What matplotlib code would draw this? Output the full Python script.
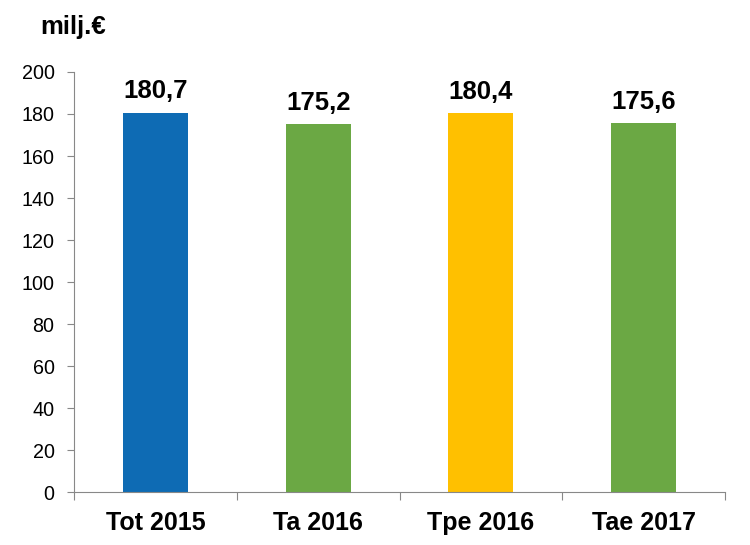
import matplotlib
matplotlib.use("Agg")
import matplotlib.pyplot as plt
import numpy as np

plt.rcParams["font.family"] = ["Liberation Sans", "DejaVu Sans"]

# ---- DATA ----
categories = ["Tot 2015", "Ta 2016", "Tpe 2016", "Tae 2017"]
values = [180.7, 175.2, 180.4, 175.6]
value_labels = ["180,7", "175,2", "180,4", "175,6"]
bar_colors = ["#0E6BB4", "#6BA844", "#FFC000", "#6BA844"]

fig = plt.figure(figsize=(7.5, 5.45), dpi=100)
ax = fig.add_axes([0.0987, 0.0972, 0.8680, 0.7707])

x = np.arange(len(categories))
ax.bar(x, values, width=0.4, color=bar_colors, zorder=2)

for xi, v, lab in zip(x, values, value_labels):
    ax.text(xi, v + 4.5, lab, ha="center", va="bottom",
            fontsize=18.5, fontweight="bold")

ax.set_xlim(-0.5, len(categories) - 0.5)
ax.set_ylim(0, 200)
ax.set_yticks(np.arange(0, 201, 20))
ax.tick_params(axis="y", labelsize=14.2, length=5, color="#888888", pad=9)

# x ticks at category boundaries, labels centred
ax.set_xticks(np.arange(-0.5, len(categories)), minor=False)
ax.set_xticklabels([])
ax.set_xticks(x, minor=True)
ax.set_xticklabels(categories, minor=True, fontsize=18, fontweight="bold")
ax.tick_params(axis="x", which="major", length=6, color="#888888")
ax.tick_params(axis="x", which="minor", length=0, pad=14)

for side in ["top", "right"]:
    ax.spines[side].set_visible(False)
for side in ["left", "bottom"]:
    ax.spines[side].set_color("#888888")

fig.text(0.053, 0.95, "milj.€", fontsize=18.5, fontweight="bold",
         ha="left", va="center")

fig.savefig("out.png", dpi=100)
